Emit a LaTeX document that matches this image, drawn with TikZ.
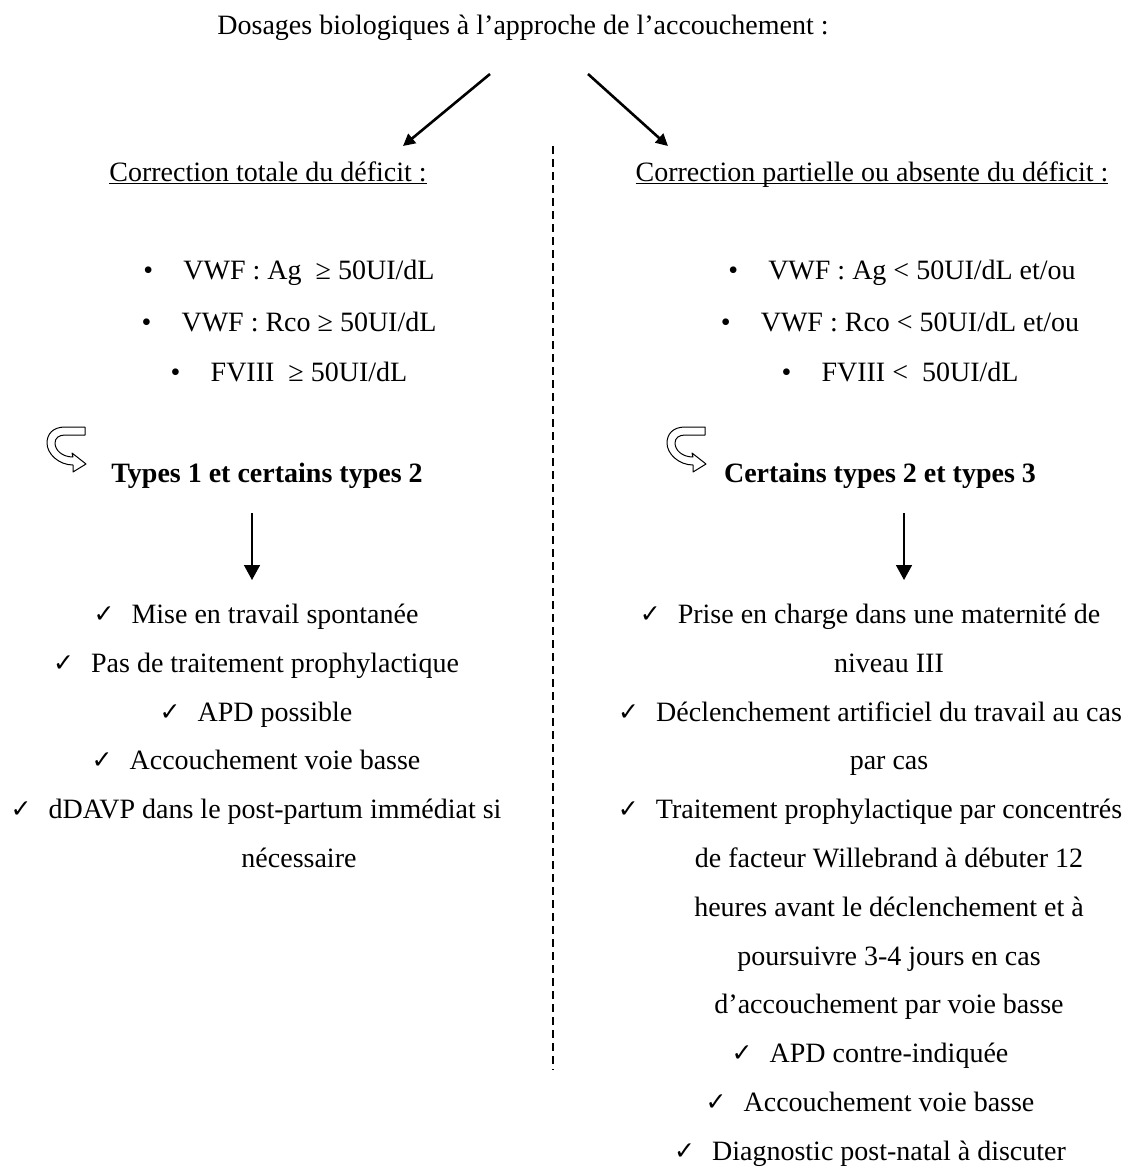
\documentclass[tikz,border=0pt]{standalone}
\usepackage{fontspec}
\setmainfont{Liberation Serif}
\newfontfamily\chkfont{DejaVu Sans}
\usepackage{tikz}
\usetikzlibrary{arrows.meta, positioning}

\newcommand{\chk}{\makebox[19pt][l]{\raisebox{0.5pt}{\chkfont\fontsize{12.5}{12.5}\selectfont ✓}}}
\newcommand{\bul}{\makebox[20pt][l]{•}}

\tikzset{
  txt/.style={font=\fontsize{14}{17}\selectfont, inner sep=0pt, anchor=base},
  boldtxt/.style={txt, font=\fontsize{14}{17}\selectfont\bfseries},
  bigarrow/.style={line width=1.3pt, -{Triangle[length=6pt, width=6pt]}},
  downarrow/.style={line width=0.8pt, -{Triangle[length=7.5pt, width=8pt]}},
  sepline/.style={line width=0.7pt, dash pattern=on 4pt off 2.5pt},
  uturn/.style={draw, line width=0.5pt, fill=white, line join=round}
}

\begin{document}
\begin{tikzpicture}[x=0.5pt, y=-0.5pt]
  \useasboundingbox (0,0) rectangle (1142,1167);
  % title and the two branches
  \node[txt] (title) at (523,34) {Dosages biologiques à l’approche de l’accouchement :};
  \coordinate (title-l) at (490,74);
  \coordinate (title-r) at (588,74);
  \node[txt] (head-l) at (268,181) {\underline{\smash{Correction totale du déficit :}}};
  \node[txt] (head-r) at (872,181) {\underline{\smash{Correction partielle ou absente du déficit :}}};
  \coordinate (head-l-in) at (403,146);
  \coordinate (head-r-in) at (668,146);
  \draw[bigarrow] (title-l) -- (head-l-in);
  \draw[bigarrow] (title-r) -- (head-r-in);
  % separator
  \coordinate (sep-top) at (553,146);
  \coordinate (sep-bot) at (553,1070);
  \draw[sepline] (sep-top) -- (sep-bot);

  % dosages
  \node[txt] (ag-l)   at (289,279) {\bul VWF : Ag\ \ ≥ 50UI/dL};
  \node[txt] (rco-l)  at (289,331) {\bul VWF : Rco ≥ 50UI/dL};
  \node[txt] (fviii-l) at (289,381) {\bul FVIII\ \ ≥ 50UI/dL};
  \node[txt] (ag-r)   at (902,279) {\bul VWF : Ag < 50UI/dL et/ou};
  \node[txt] (rco-r)  at (900,331) {\bul VWF : Rco < 50UI/dL et/ou};
  \node[txt] (fviii-r) at (900,381) {\bul FVIII <\ \ 50UI/dL};

  % u-turn arrows
  \foreach \ux in {47,667}{
    \draw[uturn, shift={(\ux,425)}] (38,2) -- (18,2)
      .. controls (6,2) and (0,9) .. (0,18)
      .. controls (0,29) and (12,40) .. (26,40) -- (26,47) -- (39,39) -- (25,28) -- (26,32)
      .. controls (15,32) and (8,25) .. (8,18)
      .. controls (8,13) and (12,10) .. (18,10) -- (38,10) -- cycle;
  }
  \node[boldtxt] (types-l) at (267,482) {Types 1 et certains types 2};
  \node[boldtxt] (types-r) at (880,482) {Certains types 2 et types 3};

  \coordinate (down-l-top) at (252,513);
  \coordinate (down-l-tip) at (252,580);
  \coordinate (down-r-top) at (904,513);
  \coordinate (down-r-tip) at (904,580);
  \draw[downarrow] (down-l-top) -- (down-l-tip);
  \draw[downarrow] (down-r-top) -- (down-r-tip);

  % conduite a tenir, left
  \node[txt] (mise)    at (256,623) {\chk Mise en travail spontanée};
  \node[txt] (pas)     at (256,672) {\chk Pas de traitement prophylactique};
  \node[txt] (apd-l)   at (256,721) {\chk APD possible};
  \node[txt] (avb-l)   at (256,769) {\chk Accouchement voie basse};
  \node[txt] (ddavp)   at (256,818) {\chk dDAVP dans le post-partum immédiat si};
  \node[txt] (ddavp-2) at (299,867) {nécessaire};

  % conduite a tenir, right
  \node[txt] (prise)     at (870,623) {\chk Prise en charge dans une maternité de};
  \node[txt] (prise-2)   at (889,672) {niveau III};
  \node[txt] (declen)    at (870,721) {\chk Déclenchement artificiel du travail au cas};
  \node[txt] (declen-2)  at (889,769) {par cas};
  \node[txt] (traite)    at (870,818) {\chk Traitement prophylactique par concentrés};
  \node[txt] (traite-2)  at (889,867) {de facteur Willebrand à débuter 12};
  \node[txt] (traite-3)  at (889,916) {heures avant le déclenchement et à};
  \node[txt] (traite-4)  at (889,965) {poursuivre 3-4 jours en cas};
  \node[txt] (traite-5)  at (889,1013) {d’accouchement par voie basse};
  \node[txt] (apd-r)     at (870,1062) {\chk APD contre-indiquée};
  \node[txt] (avb-r)     at (870,1111) {\chk Accouchement voie basse};
  \node[txt] (diag)      at (870,1160) {\chk Diagnostic post-natal à discuter};
\end{tikzpicture}
\end{document}
